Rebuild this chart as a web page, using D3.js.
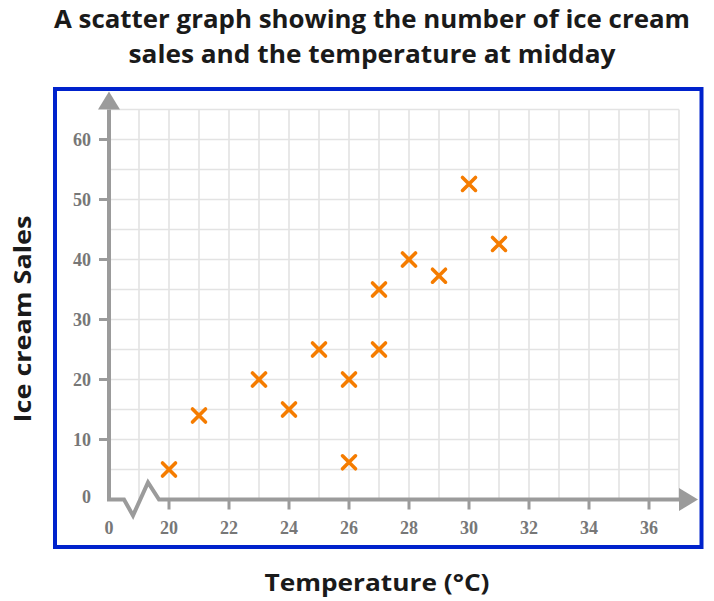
<!DOCTYPE html>
<html><head><meta charset="utf-8">
<script src="https://cdn.jsdelivr.net/npm/d3@7"></script>
<style>body{margin:0;background:#fff}</style>
</head><body>
<svg id="c" width="714" height="601"></svg>
<script>
const temperature = [20, 21, 23, 24, 25, 26, 26, 27, 27, 28, 29, 30, 31];
const sales       = [5, 14, 20, 15, 25, 20, 6.2, 25, 35, 40, 37.3, 52.6, 42.6];
const xTicks = [20, 22, 24, 26, 28, 30, 32, 34, 36];
const yTicks = [10, 20, 30, 40, 50, 60];
const titleLines = ["A scatter graph showing the number of ice cream", "sales and the temperature at midday"];
const xLabel = "Temperature (°C)";
const yLabel = "Ice cream Sales";

const svg = d3.select("#c");
const x = d3.scaleLinear().domain([18, 37]).range([109, 679]);
const y = d3.scaleLinear().domain([0, 65]).range([499.5, 109.5]);
const axisCol = "#9b9b9b", gridCol = "#e3e3e3", lblCol = "#777";

// title
const titleW = [636, 487];
svg.append("g").selectAll("text").data(titleLines).join("text")
  .attr("x", 372).attr("y", (d, i) => 28 + i * 35)
  .attr("text-anchor", "middle")
  .attr("font-family", "'Open Sans',sans-serif").attr("font-weight", 700)
  .attr("font-size", 25.5).attr("fill", "#1a1a1a")
  .attr("textLength", (d, i) => titleW[i]).attr("lengthAdjust", "spacingAndGlyphs")
  .text(d => d);

// border
svg.append("rect").attr("x", 55).attr("y", 89).attr("width", 646.5).attr("height", 458)
  .attr("fill", "none").attr("stroke", "#0022cc").attr("stroke-width", 4);

// grid
const g = svg.append("g");
g.selectAll(".vg").data(d3.range(19, 38)).join("line")
  .attr("x1", d => x(d)).attr("x2", d => x(d)).attr("y1", y(65)).attr("y2", y(0))
  .attr("stroke", gridCol).attr("stroke-width", 1.6);
g.selectAll(".hg").data(d3.range(5, 66, 5)).join("line")
  .attr("x1", x(18)).attr("x2", x(37)).attr("y1", d => y(d)).attr("y2", d => y(d))
  .attr("stroke", gridCol).attr("stroke-width", 1.6);

// axes
const x0 = x(18), y0 = y(0);
svg.append("line").attr("x1", x0).attr("x2", x0).attr("y1", y0 + 1).attr("y2", y(65))
  .attr("stroke", axisCol).attr("stroke-width", 4);
svg.append("path").attr("d", `M${x0 - 2},${y0}L${x0 + 15},${y0}L${x0 + 24},${y0 + 16}L${x0 + 39},${y0 - 17}L${x0 + 50},${y0}L${x(37)},${y0}`)
  .attr("fill", "none").attr("stroke", axisCol).attr("stroke-width", 4).attr("stroke-linejoin", "miter");
svg.append("path").attr("d", `M${x0 - 11},${y(65)}L${x0 + 11},${y(65)}L${x0},${y(65) - 18}Z`).attr("fill", axisCol);
svg.append("path").attr("d", `M${x(37)},${y0 - 11.5}L${x(37)},${y0 + 11.5}L${x(37) + 19},${y0}Z`).attr("fill", axisCol);

// ticks
svg.selectAll(".xt").data(xTicks).join("line")
  .attr("x1", d => x(d)).attr("x2", d => x(d)).attr("y1", y0).attr("y2", y0 + 10)
  .attr("stroke", axisCol).attr("stroke-width", 3);
svg.selectAll(".yt").data(yTicks).join("line")
  .attr("x1", x0 - 10).attr("x2", x0).attr("y1", d => y(d)).attr("y2", d => y(d))
  .attr("stroke", axisCol).attr("stroke-width", 3);

const tf = "'Liberation Serif','Times New Roman',serif";
svg.selectAll(".xl").data([18].concat(xTicks)).join("text")
  .attr("x", d => x(d)).attr("y", y0 + 34).attr("text-anchor", "middle")
  .attr("font-family", tf).attr("font-weight", 700).attr("font-size", 18).attr("fill", lblCol)
  .text(d => d === 18 ? "0" : d);
svg.selectAll(".yl").data([0].concat(yTicks)).join("text")
  .attr("x", 91).attr("y", d => y(d) + (d === 0 ? 3 : 6)).attr("text-anchor", "end")
  .attr("font-family", tf).attr("font-weight", 700).attr("font-size", 18).attr("fill", lblCol)
  .text(d => d);

// points
const s = 6.5;
svg.append("g").selectAll("path").data(temperature.map((t, i) => [t, sales[i]])).join("path")
  .attr("d", d => { const cx = x(d[0]), cy = y(d[1]);
    return `M${cx - s},${cy - s}L${cx + s},${cy + s}M${cx - s},${cy + s}L${cx + s},${cy - s}`; })
  .attr("stroke", "#f57c00").attr("stroke-width", 3.6).attr("stroke-linecap", "round").attr("fill", "none");

// axis labels
svg.append("text").attr("x", 377).attr("y", 591).attr("text-anchor", "middle")
  .attr("font-family", "'Open Sans',sans-serif").attr("font-weight", 700).attr("font-size", 24)
  .attr("textLength", 225).attr("lengthAdjust", "spacingAndGlyphs")
  .attr("fill", "#1a1a1a").text(xLabel);
svg.append("text").attr("transform", "translate(31,319) rotate(-90)").attr("text-anchor", "middle")
  .attr("font-family", "'Open Sans',sans-serif").attr("font-weight", 700).attr("font-size", 24)
  .attr("textLength", 207).attr("lengthAdjust", "spacingAndGlyphs")
  .attr("fill", "#1a1a1a").text(yLabel);
</script>
</body></html>
